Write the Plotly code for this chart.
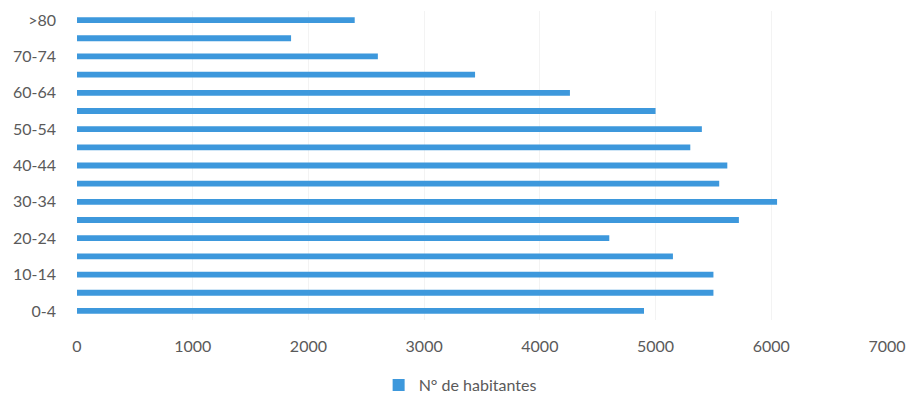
import plotly.graph_objects as go

categories = ["0-4", "5-9", "10-14", "15-19", "20-24", "25-29", "30-34", "35-39",
              "40-44", "45-49", "50-54", "55-59", "60-64", "65-69", "70-74", "75-79", ">80"]
habitantes = [4900, 5500, 5500, 5150, 4600, 5720, 6050, 5550,
              5620, 5300, 5400, 5000, 4260, 3440, 2600, 1850, 2400]
y_tick_labels = ["0-4", "10-14", "20-24", "30-34", "40-44", "50-54", "60-64", "70-74", ">80"]
x_ticks = [0, 1000, 2000, 3000, 4000, 5000, 6000, 7000]
series_name = "N° de habitantes"

FONT = "Lato"
TXT = "#5a5a5a"

fig = go.Figure()
fig.add_trace(go.Bar(
    y=categories, x=habitantes, orientation="h", name=series_name,
    marker=dict(color="#3d98dc", line=dict(width=0)),
    showlegend=True,
))

fig.update_layout(
    width=919, height=404,
    margin=dict(l=77, r=32, t=11, b=84, autoexpand=False),
    paper_bgcolor="white", plot_bgcolor="white",
    bargap=0.68,
    font=dict(family=FONT, size=16, color=TXT),
    legend=dict(orientation="h", x=0.473, xanchor="center",
                yref="container", y=1 - 385 / 404, yanchor="middle",
                font=dict(family=FONT, size=16, color=TXT), itemwidth=30),
    xaxis=dict(range=[0, 7000], tickvals=x_ticks, showgrid=True, gridcolor="#f3f3f3",
               zeroline=False, showline=False, ticks="", ticklabelstandoff=15,
               tickfont=dict(family=FONT, size=16, color=TXT)),
    yaxis=dict(categoryorder="array", categoryarray=categories,
               tickvals=y_tick_labels, ticktext=y_tick_labels,
               showgrid=False, zeroline=False, showline=False, ticks="",
               ticklabelstandoff=20, tickfont=dict(family=FONT, size=16, color=TXT)),
)

fig.write_html("out.html")
